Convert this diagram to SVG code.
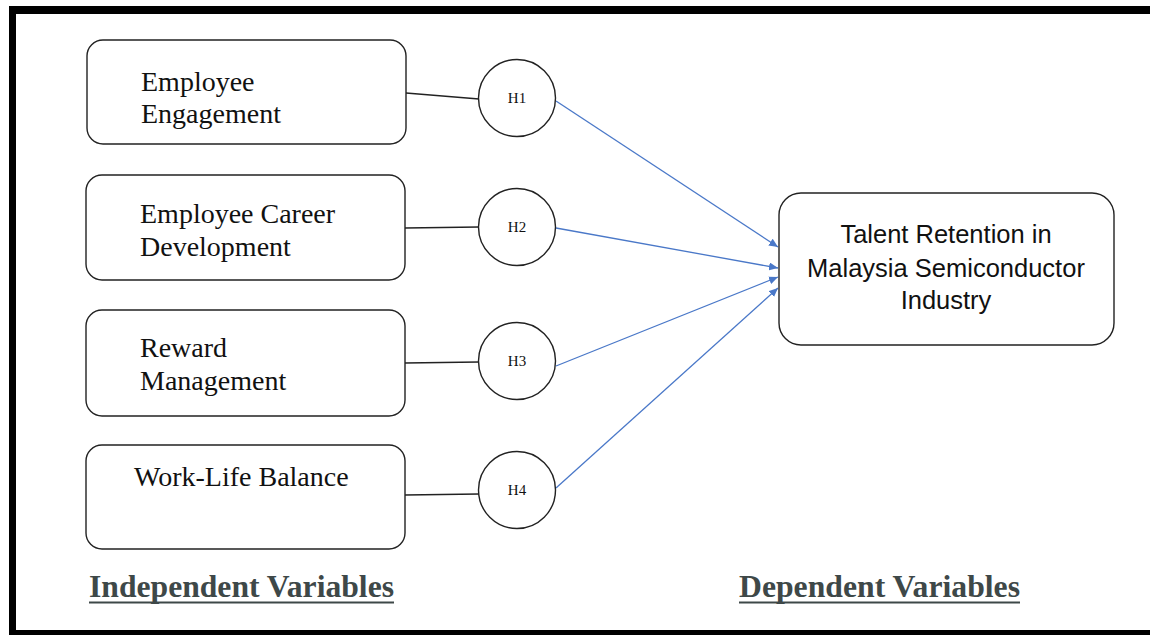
<svg xmlns="http://www.w3.org/2000/svg" width="1150" height="635" viewBox="0 0 1150 635">
<style>
.box{fill:#fff;stroke:#222;stroke-width:1.4}
.circ{fill:#fff;stroke:#222;stroke-width:1.4}
.serif{font-family:"Liberation Serif","Times New Roman",serif;fill:#111}
.lbl{font-size:28px}
.h{font-size:15px;text-anchor:middle}
.sans{font-family:"Liberation Sans",Arial,sans-serif;font-size:25.5px;fill:#111;text-anchor:middle}
.title{font-family:"Liberation Serif","Times New Roman",serif;font-weight:bold;font-size:31px;fill:#3e4848}
.ul{stroke:#3e4848;stroke-width:2}
.link{stroke:#222;stroke-width:1.5;fill:none}
.arr{stroke:#4a78c8;stroke-width:1.3;fill:none;marker-end:url(#ah)}
</style>
<defs>
<marker id="ah" markerUnits="userSpaceOnUse" markerWidth="10" markerHeight="8" refX="9" refY="4" orient="auto">
<path d="M0,0 L9,4 L0,8 Z" fill="#4a78c8"/>
</marker>
</defs>
<rect x="0" y="0" width="1150" height="635" fill="#fff"/>
<g id="frame" fill="#000">
<rect x="9" y="6" width="1141" height="8"/>
<rect x="9" y="6" width="7" height="629"/>
<rect x="9" y="630" width="1141" height="5"/>
</g>
<g id="connectors">
<line class="link" x1="406" y1="93" x2="479" y2="99"/>
<line class="link" x1="405" y1="228" x2="479" y2="227"/>
<line class="link" x1="405" y1="363" x2="479" y2="362"/>
<line class="link" x1="405" y1="495" x2="479" y2="494"/>
<line class="arr" x1="556" y1="101" x2="778" y2="247"/>
<line class="arr" x1="556" y1="228" x2="778" y2="268"/>
<line class="arr" x1="556" y1="366" x2="778" y2="277"/>
<line class="arr" x1="556" y1="488" x2="778" y2="288"/>
</g>
<g id="node-engagement">
<rect class="box" x="87" y="40" width="319" height="104" rx="16"/>
<text class="serif lbl" x="141" y="91">Employee</text>
<text class="serif lbl" x="141" y="123">Engagement</text>
</g>
<g id="node-career">
<rect class="box" x="86" y="175" width="319" height="105" rx="16"/>
<text class="serif lbl" x="140" y="223">Employee Career</text>
<text class="serif lbl" x="140" y="256">Development</text>
</g>
<g id="node-reward">
<rect class="box" x="86" y="310" width="319" height="106" rx="16"/>
<text class="serif lbl" x="140" y="357">Reward</text>
<text class="serif lbl" x="140" y="390">Management</text>
</g>
<g id="node-worklife">
<rect class="box" x="86" y="445" width="319" height="104" rx="16"/>
<text class="serif lbl" x="134" y="486">Work-Life Balance</text>
</g>
<g id="node-h1">
<circle class="circ" cx="517" cy="98" r="38.5"/>
<text class="serif h" x="517" y="103">H1</text>
</g>
<g id="node-h2">
<circle class="circ" cx="517" cy="227" r="38.5"/>
<text class="serif h" x="517" y="232">H2</text>
</g>
<g id="node-h3">
<circle class="circ" cx="517" cy="361" r="38.5"/>
<text class="serif h" x="517" y="366">H3</text>
</g>
<g id="node-h4">
<circle class="circ" cx="517" cy="490" r="38.5"/>
<text class="serif h" x="517" y="495">H4</text>
</g>
<g id="node-talent">
<rect class="box" x="779" y="193" width="335" height="152" rx="22"/>
<text class="sans" x="946" y="243">Talent Retention in</text>
<text class="sans" x="946" y="277">Malaysia Semiconductor</text>
<text class="sans" x="946" y="309">Industry</text>
</g>
<g id="label-independent">
<text class="title" x="89" y="597" textLength="305" lengthAdjust="spacingAndGlyphs">Independent Variables</text>
<line class="ul" x1="89" y1="602.5" x2="394" y2="602.5"/>
</g>
<g id="label-dependent">
<text class="title" x="739" y="597" textLength="281" lengthAdjust="spacingAndGlyphs">Dependent Variables</text>
<line class="ul" x1="739" y1="602.5" x2="1020" y2="602.5"/>
</g>
</svg>
